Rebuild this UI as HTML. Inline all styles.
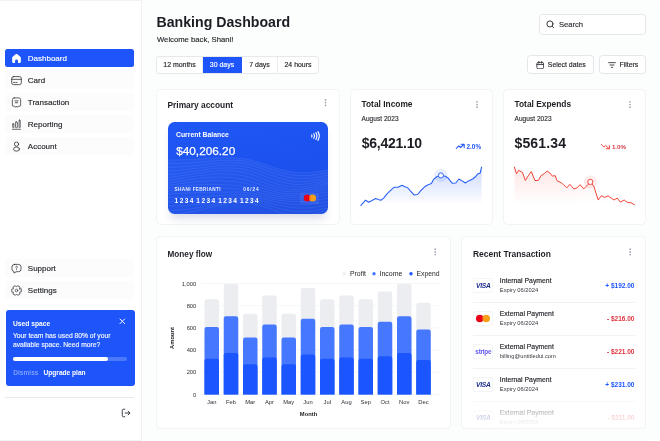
<!DOCTYPE html>
<html lang="en">
<head>
<meta charset="utf-8">
<title>Banking Dashboard</title>
<style>
*{box-sizing:border-box;margin:0;padding:0}
html,body{width:660px;height:441px;overflow:hidden}
body{font-family:"Liberation Sans",sans-serif;background:#fff;color:#1a1c21;position:relative}
.abs{position:absolute}
/* sidebar */
#side{position:absolute;left:0;top:0;width:142px;height:441px;background:#fff;border-right:1px solid #f0f1f4;border-top:1px solid #f1f2f4;border-bottom:1px solid #f1f2f4}
.nav{position:absolute;left:5.3px;width:129px;height:18px;background:#fcfcfc;border-radius:2px;font-size:8px;color:#23262b;line-height:20px;padding-left:22.5px;white-space:nowrap}
.nav.on{background:#1d55fb;color:#fff;border-radius:2.5px}
.nav svg{position:absolute;left:5.7px;top:3.7px;width:11px;height:11px;fill:none;stroke:#2a2d33;stroke-width:1.7;stroke-linecap:round;stroke-linejoin:round}
#used{position:absolute;left:5.5px;top:309px;width:129px;height:76px;background:#1d55fb;border-radius:3px;color:#fff}
#used .t{position:absolute;left:7.5px;top:9.4px;font-size:6.7px;font-weight:bold;line-height:9px}
#used .d{position:absolute;left:7.5px;top:20.6px;font-size:6.74px;line-height:9.1px;white-space:nowrap;color:#f3f6ff}
#used .bar{position:absolute;left:7.5px;top:46.6px;width:114px;height:4px;border-radius:2px;background:#4c79fc}
#used .bar i{display:block;width:95px;height:4px;border-radius:2px;background:#fff}
#used .a{position:absolute;top:57.7px;font-size:6.6px;line-height:9px;font-weight:bold;white-space:nowrap}
/* main */
h1{position:absolute;left:156.5px;top:12.5px;font-size:14.15px;line-height:19px;font-weight:bold;color:#1b1d22;white-space:nowrap}
.sub{position:absolute;left:157px;top:34.7px;font-size:7.7px;line-height:10px;color:#24272c;white-space:nowrap}
.tabs{position:absolute;left:156px;top:56px;width:163px;height:18px;border:1px solid #e6e8ec;border-radius:3px;background:#fff;overflow:hidden;display:flex;font-size:6.95px;line-height:16px;color:#22252a;text-align:center;white-space:nowrap}
.tabs div{border-right:1px solid #e9ebee;height:100%}
.tabs div:last-child{border-right:0}
.tabs .on{background:#1d55fb;color:#fff;border-right-color:#1d55fb}
.btn{position:absolute;height:19px;top:55px;border:1px solid #e4e6eb;border-radius:3.5px;background:#fff;font-size:6.9px;line-height:17.4px;color:#22252a;white-space:nowrap}
.btn svg{position:absolute;fill:none;stroke:#2a2d33;stroke-linecap:round;stroke-linejoin:round}
.card{position:absolute;background:#fff;border:1px solid #f2f3f6;border-radius:4.5px}
.ct{position:absolute;font-size:8.2px;line-height:11px;font-weight:bold;color:#1d1f24;white-space:nowrap}
.keb{position:absolute;width:1.4px}
.keb i{display:block;width:1.6px;height:1.6px;border-radius:1px;background:#a2a8b4;margin-bottom:1.05px}
.small{position:absolute;font-size:6.5px;letter-spacing:.05px;line-height:8px;color:#2b2e33;white-space:nowrap}
.big{position:absolute;font-size:14px;line-height:18px;font-weight:bold;color:#1b1d22;white-space:nowrap}
.pct{position:absolute;font-size:6.4px;line-height:8px;font-weight:bold;white-space:nowrap}
svg text{font-family:"Liberation Sans",sans-serif}
.sub,.nav,.tabs,.btn,.tt,.small,#used .d{-webkit-text-stroke:.15px currentColor}
#ov{position:absolute;left:0;top:0;width:660px;height:441px;pointer-events:none}
/* bank card */
#bank{position:absolute;left:167.6px;top:121.8px;width:160.9px;height:92.4px;border-radius:6.5px;background:linear-gradient(170deg,#1f57f6 0%,#1c51ee 55%,#1a4be2 100%);box-shadow:0 7px 9px -3px rgba(30,50,110,.17);color:#fff;overflow:hidden}
#bank div{position:absolute;white-space:nowrap}
#bank svg.w{position:absolute;left:0;top:0;width:160.7px;height:92px}
/* transactions */
.logo{position:absolute;left:473.2px;width:20.3px;height:14.3px;border:1px solid #f4f5f7;border-radius:2px;background:#fff;text-align:center;overflow:hidden}
.visa{position:absolute;left:0;right:0;top:3.3px;font-size:6.6px;line-height:6px;font-weight:bold;font-style:italic;color:#1b2a8f;letter-spacing:-.2px}
.stripe{position:absolute;left:0;right:0;top:2.3px;font-size:6.3px;line-height:7px;font-weight:bold;color:#5f57f5;letter-spacing:-.2px}
.tt{position:absolute;left:499.8px;font-size:6.85px;line-height:9px;color:#1d1f24;white-space:nowrap}
.ts{position:absolute;left:499.8px;font-size:5.75px;line-height:8px;color:#33363c;white-space:nowrap}
.ta{position:absolute;right:25.6px;font-size:6.5px;line-height:9px;font-weight:bold;white-space:nowrap}
.dv{position:absolute;left:473.2px;width:161.4px;height:1px;background:#f1f2f4}
#fade{position:absolute;left:463px;top:398px;width:182px;height:29.5px;background:linear-gradient(180deg,rgba(255,255,255,.35) 0%,rgba(255,255,255,.75) 55%,#fff 100%);border-radius:0 0 5px 5px}
</style>
</head>
<body>
<!-- SIDEBAR -->
<div id="side">
  <div class="nav on" style="top:48px"><svg viewBox="0 0 24 24" style="stroke:none;fill:#fff"><path d="M2.5 10.6c0-1 .4-1.9 1.200-2.500l6.400-5.300c1.100-.9 2.700-.9 3.800 0l6.400 5.300c.8.600 1.200 1.500 1.200 2.500V19a3 3 0 0 1-3 3h-2.300a1 1 0 0 1-1-1v-3.600a3.200 3.200 0 0 0-6.400 0V21a1 1 0 0 1-1 1H5.500a3 3 0 0 1-3-3z"/></svg>Dashboard</div>
  <div class="nav" style="top:70px"><svg viewBox="0 0 24 24"><rect x="1.5" y="3.500" width="21" height="17.500" rx="4"/><path d="M1.500 9.500h21M5.500 16.200h2.500M10.500 16.200h2.500"/></svg>Card</div>
  <div class="nav" style="top:92px"><svg viewBox="0 0 24 24"><path d="M7 2h10a4 4 0 0 1 4 4v12.500a1.500 1.500 0 0 1-1.500 1.500H16l-2 2.500-2-2.500-2 2.500-2-2.500H4.500A1.500 1.500 0 0 1 3 18.500V6a4 4 0 0 1 4-4z" stroke-width="1.600"/><path d="M8.500 8.500h7M9.500 12.500h5"/></svg>Transaction</div>
  <div class="nav" style="top:114px"><svg viewBox="0 0 24 24"><path d="M3 22.500h18" stroke-width="1.500"/><rect x="3.800" y="10.500" width="2.600" height="8.500" rx=".8" stroke-width="1.500"/><rect x="10" y="6.500" width="4" height="12.500" rx="1.200" stroke-width="1.500"/><rect x="17.600" y="2.500" width="2.600" height="16.500" rx=".8" stroke-width="1.500"/></svg>Reporting</div>
  <div class="nav" style="top:136px"><svg viewBox="0 0 24 24"><circle cx="12" cy="6.800" r="4.600"/><ellipse cx="12" cy="17.600" rx="6.500" ry="4.600"/></svg>Account</div>
  <div class="nav" style="top:258px"><svg viewBox="0 0 24 24"><path d="M8 3h8a6 6 0 0 1 6 6v4a6 6 0 0 1-6 6h-4.500L6.500 22v-3.200A6 6 0 0 1 2 13V9a6 6 0 0 1 6-6z"/><path d="M10.300 9a1.800 1.800 0 1 1 2.600 1.600c-.6.300-.9.700-.9 1.400" stroke-width="1.500"/><path d="M12 14.800v.1" stroke-width="1.800"/></svg>Support</div>
  <div class="nav" style="top:280px"><svg viewBox="0 0 24 24"><circle cx="12" cy="12" r="2.800" stroke-width="1.500"/><path d="M22.4 9.0L22.4 15.0L18.6 15.8L19.8 19.5L14.6 22.5L12.0 19.6L9.4 22.5L4.2 19.5L5.4 15.8L1.6 15.0L1.6 9.0L5.4 8.2L4.2 4.5L9.4 1.5L12.0 4.4L14.6 1.5L19.8 4.5L18.6 8.2z" stroke-width="1.600"/></svg>Settings</div>
  <div id="used">
    <div class="t">Used space</div>
    <div class="d">Your team has used 80% of your<br>available space. Need more?</div>
    <div class="bar"><i></i></div>
    <div class="a" style="left:7.7px;color:#7f9fff">Dismiss</div>
    <div class="a" style="left:38px">Upgrade plan</div>
    <svg class="abs" style="left:113.500px;top:8.400px" width="6.600" height="6.600" viewBox="0 0 7 7"><path d="M1 1l5 5M6 1l-5 5" stroke="#fff" stroke-width="1" stroke-linecap="round" fill="none"/></svg>
  </div>
  <div class="abs" style="left:5.3px;top:395.7px;width:129px;height:1px;background:#e7e9ed"></div>
  <svg class="abs" style="left:121px;top:407px" width="10" height="10" viewBox="0 0 24 24" fill="none" stroke="#2a2d33" stroke-width="2.200" stroke-linecap="round" stroke-linejoin="round"><path d="M9 3H6a3 3 0 0 0-3 3v12a3 3 0 0 0 3 3h3"/><path d="M10 12h11M17 7.500l4.500 4.500-4.500 4.500"/></svg>
</div>

<div class="abs" style="left:142px;top:0;width:518px;height:441px;background:#fcfdfd;border-radius:0 9px 9px 0"></div>
<!-- HEADER -->
<h1>Banking Dashboard</h1>
<div class="sub">Welcome back, Shani!</div>
<div class="tabs">
  <div style="width:46px">12 months</div><div class="on" style="width:39px">30 days</div><div style="width:36px">7 days</div><div style="flex:1">24 hours</div>
</div>
<div class="btn" style="left:538.8px;top:13.8px;width:107.3px;height:20.8px;font-size:7.6px;line-height:19.8px;padding-left:19.2px;color:#2b2e33"><svg style="left:6.3px;top:5.6px" width="8.600" height="8.600" viewBox="0 0 24 24" stroke-width="2.600"><circle cx="11" cy="11" r="8.500"/><path d="M17.500 17.500l4 4"/></svg>Search</div>
<div class="btn" style="left:527px;width:67px;padding-left:19.800px"><svg style="left:7.7px;top:4.5px" width="8.500" height="8.500" viewBox="0 0 24 24" stroke-width="2.400"><rect x="2.500" y="4" width="19" height="18" rx="4"/><path d="M2.500 10h19M8 1.500v5M16 1.500v5"/></svg>Select dates</div>
<div class="btn" style="left:599px;width:47px;padding-left:19.500px"><svg style="left:7.700px;top:4.900px" width="8" height="8" viewBox="0 0 24 24" stroke-width="2.600"><path d="M2 5h20M6 12h12M10 19h4"/></svg>Filters</div>

<!-- CARDS -->
<div class="card" style="left:156.3px;top:88.8px;width:183.4px;height:136.2px"></div>
<div class="ct" style="left:167.5px;top:99.7px;font-size:8.4px">Primary account</div>
<div id="bank">
  <svg class="w" viewBox="0 0 160.7 92" fill="none" stroke="#a9c2ff" stroke-opacity=".3" stroke-width=".4">
<path d="M0.0 37.9 L5.0 37.9 L10.1 37.8 L15.1 37.7 L20.1 37.5 L25.2 37.3 L30.2 37.1 L35.2 36.8 L40.2 36.5 L45.3 36.1 L50.3 35.9 L55.3 35.8 L60.4 35.8 L65.4 35.8 L70.4 36.0 L75.5 36.5 L80.5 37.5 L85.5 38.8 L90.6 40.3 L95.6 41.9 L100.6 43.7 L105.7 45.4 L110.7 47.0 L115.7 48.3 L120.8 49.4 L125.8 50.2 L130.8 50.6 L135.8 50.7 L140.9 50.4 L145.9 50.0 L150.9 49.3 L156.0 48.6 L161.0 47.9 L161 92 L0 92 Z" fill="#fff" fill-opacity=".035" stroke="none"/>
<polyline points="0.0 37.9 5.0 37.9 10.1 37.8 15.1 37.7 20.1 37.5 25.2 37.3 30.2 37.1 35.2 36.8 40.2 36.5 45.3 36.1 50.3 35.9 55.3 35.8 60.4 35.8 65.4 35.8 70.4 36.0 75.5 36.5 80.5 37.5 85.5 38.8 90.6 40.3 95.6 41.9 100.6 43.7 105.7 45.4 110.7 47.0 115.7 48.3 120.8 49.4 125.8 50.2 130.8 50.6 135.8 50.7 140.9 50.4 145.9 50.0 150.9 49.3 156.0 48.6 161.0 47.9"/>
<polyline points="0.0 41.6 5.0 41.6 10.1 41.4 15.1 41.2 20.1 41.0 25.2 40.7 30.2 40.3 35.2 39.9 40.2 39.4 45.3 39.0 50.3 38.6 55.3 38.4 60.4 38.3 65.4 38.3 70.4 38.4 75.5 38.9 80.5 40.0 85.5 41.3 90.6 42.9 95.6 44.5 100.6 46.3 105.7 48.1 110.7 49.8 115.7 51.2 120.8 52.3 125.8 53.1 130.8 53.6 135.8 53.6 140.9 53.4 145.9 52.9 150.9 52.1 156.0 51.3 161.0 50.5"/>
<polyline points="0.0 45.3 5.0 45.2 10.1 45.0 15.1 44.6 20.1 44.3 25.2 43.8 30.2 43.3 35.2 42.8 40.2 42.2 45.3 41.6 50.3 41.2 55.3 40.9 60.4 40.8 65.4 40.8 70.4 40.9 75.5 41.5 80.5 42.5 85.5 44.0 90.6 45.6 95.6 47.4 100.6 49.2 105.7 51.1 110.7 52.8 115.7 54.3 120.8 55.4 125.8 56.2 130.8 56.6 135.8 56.6 140.9 56.3 145.9 55.7 150.9 54.9 156.0 53.9 161.0 52.9"/>
<polyline points="0.0 49.0 5.0 48.7 10.1 48.3 15.1 47.8 20.1 47.3 25.2 46.7 30.2 46.1 35.2 45.4 40.2 44.8 45.3 44.2 50.3 43.7 55.3 43.4 60.4 43.3 65.4 43.3 70.4 43.5 75.5 44.2 80.5 45.3 85.5 46.8 90.6 48.6 95.6 50.4 100.6 52.3 105.7 54.2 110.7 56.0 115.7 57.4 120.8 58.5 125.8 59.3 130.8 59.7 135.8 59.5 140.9 59.1 145.9 58.3 150.9 57.3 156.0 56.2 161.0 55.1"/>
<polyline points="0.0 52.4 5.0 51.9 10.1 51.4 15.1 50.8 20.1 50.1 25.2 49.4 30.2 48.7 35.2 48.0 40.2 47.3 45.3 46.7 50.3 46.2 55.3 46.0 60.4 46.0 65.4 46.0 70.4 46.4 75.5 47.1 80.5 48.4 85.5 50.0 90.6 51.8 95.6 53.7 100.6 55.6 105.7 57.5 110.7 59.3 115.7 60.6 120.8 61.6 125.8 62.3 130.8 62.5 135.8 62.2 140.9 61.6 145.9 60.7 150.9 59.6 156.0 58.3 161.0 57.1"/>
<polyline points="0.0 55.5 5.0 54.9 10.1 54.2 15.1 53.5 20.1 52.7 25.2 51.9 30.2 51.2 35.2 50.5 40.2 49.8 45.3 49.3 50.3 48.9 55.3 48.8 60.4 48.8 65.4 49.0 70.4 49.5 75.5 50.3 80.5 51.7 85.5 53.3 90.6 55.2 95.6 57.1 100.6 59.0 105.7 60.8 110.7 62.5 115.7 63.7 120.8 64.6 125.8 65.1 130.8 65.1 135.8 64.7 140.9 63.9 145.9 62.8 150.9 61.6 156.0 60.2 161.0 58.9"/>
<polyline points="0.0 58.3 5.0 57.6 10.1 56.8 15.1 56.0 20.1 55.2 25.2 54.4 30.2 53.7 35.2 53.1 40.2 52.5 45.3 52.1 50.3 51.8 55.3 51.9 60.4 52.0 65.4 52.4 70.4 52.9 75.5 53.8 80.5 55.1 85.5 56.8 90.6 58.6 95.6 60.5 100.6 62.3 105.7 64.0 110.7 65.5 115.7 66.5 120.8 67.2 125.8 67.5 130.8 67.4 135.8 66.8 140.9 65.9 145.9 64.7 150.9 63.4 156.0 61.9 161.0 60.6"/>
<polyline points="0.0 61.0 5.0 60.2 10.1 59.4 15.1 58.5 20.1 57.8 25.2 57.1 30.2 56.5 35.2 56.0 40.2 55.5 45.3 55.2 50.3 55.1 55.3 55.2 60.4 55.5 65.4 55.9 70.4 56.5 75.5 57.4 80.5 58.7 85.5 60.3 90.6 62.0 95.6 63.7 100.6 65.4 105.7 66.9 110.7 68.2 115.7 69.1 120.8 69.6 125.8 69.7 130.8 69.4 135.8 68.7 140.9 67.7 145.9 66.5 150.9 65.1 156.0 63.7 161.0 62.5"/>
<polyline points="0.0 63.5 5.0 62.7 10.1 61.9 15.1 61.2 20.1 60.6 25.2 60.0 30.2 59.5 35.2 59.2 40.2 58.9 45.3 58.7 50.3 58.7 55.3 58.9 60.4 59.2 65.4 59.6 70.4 60.1 75.5 61.0 80.5 62.2 85.5 63.6 90.6 65.2 95.6 66.7 100.6 68.1 105.7 69.5 110.7 70.5 115.7 71.3 120.8 71.6 125.8 71.6 130.8 71.2 135.8 70.5 140.9 69.5 145.9 68.3 150.9 67.0 156.0 65.7 161.0 64.5"/>
<polyline points="0.0 66.1 5.0 65.4 10.1 64.8 15.1 64.2 20.1 63.7 25.2 63.3 30.2 63.0 35.2 62.7 40.2 62.5 45.3 62.4 50.3 62.5 55.3 62.7 60.4 63.0 65.4 63.3 70.4 63.7 75.5 64.4 80.5 65.4 85.5 66.7 90.6 68.0 95.6 69.3 100.6 70.5 105.7 71.7 110.7 72.6 115.7 73.2 120.8 73.4 125.8 73.4 130.8 73.0 135.8 72.3 140.9 71.3 145.9 70.2 150.9 69.1 156.0 67.9 161.0 67.0"/>
<polyline points="0.0 68.9 5.0 68.4 10.1 67.9 15.1 67.5 20.1 67.2 25.2 66.9 30.2 66.7 35.2 66.6 40.2 66.4 45.3 66.4 50.3 66.4 55.3 66.5 60.4 66.7 65.4 66.8 70.4 67.0 75.5 67.5 80.5 68.3 85.5 69.3 90.6 70.5 95.6 71.5 100.6 72.6 105.7 73.6 110.7 74.4 115.7 75.0 120.8 75.2 125.8 75.2 130.8 74.9 135.8 74.3 140.9 73.5 145.9 72.5 150.9 71.5 156.0 70.5 161.0 69.8"/>
<polyline points="0.0 72.1 5.0 71.8 10.1 71.5 15.1 71.2 20.1 71.0 25.2 70.8 30.2 70.7 35.2 70.6 40.2 70.4 45.3 70.2 50.3 70.1 55.3 70.1 60.4 70.1 65.4 70.0 70.4 70.0 75.5 70.2 80.5 70.8 85.5 71.6 90.6 72.5 95.6 73.5 100.6 74.5 105.7 75.4 110.7 76.2 115.7 76.8 120.8 77.1 125.8 77.2 130.8 77.1 135.8 76.6 140.9 76.0 145.9 75.2 150.9 74.4 156.0 73.6 161.0 72.9"/>
<polyline points="0.0 75.8 5.0 75.6 10.1 75.4 15.1 75.3 20.1 75.1 25.2 75.0 30.2 74.8 35.2 74.6 40.2 74.3 45.3 73.9 50.3 73.6 55.3 73.3 60.4 73.1 65.4 72.8 70.4 72.5 75.5 72.5 80.5 72.9 85.5 73.6 90.6 74.4 95.6 75.3 100.6 76.3 105.7 77.3 110.7 78.2 115.7 78.8 120.8 79.3 125.8 79.6 130.8 79.7 135.8 79.4 140.9 79.0 145.9 78.3 150.9 77.6 156.0 76.9 161.0 76.2"/>
<polyline points="0.0 79.8 5.0 79.7 10.1 79.6 15.1 79.5 20.1 79.3 25.2 79.1 30.2 78.8 35.2 78.3 40.2 77.8 45.3 77.3 50.3 76.7 55.3 76.2 60.4 75.6 65.4 75.1 70.4 74.6 75.5 74.5 80.5 74.8 85.5 75.4 90.6 76.2 95.6 77.1 100.6 78.2 105.7 79.3 110.7 80.4 115.7 81.3 120.8 82.0 125.8 82.5 130.8 82.7 135.8 82.6 140.9 82.3 145.9 81.8 150.9 81.1 156.0 80.3 161.0 79.6"/>
<polyline points="0.0 84.1 5.0 84.1 10.1 83.9 15.1 83.7 20.1 83.4 25.2 82.9 30.2 82.4 35.2 81.7 40.2 81.0 45.3 80.1 50.3 79.3 55.3 78.5 60.4 77.8 65.4 77.1 70.4 76.5 75.5 76.3 80.5 76.6 85.5 77.3 90.6 78.2 95.6 79.2 100.6 80.5 105.7 81.8 110.7 83.1 115.7 84.2 120.8 85.1 125.8 85.7 130.8 86.1 135.8 86.1 140.9 85.8 145.9 85.3 150.9 84.6 156.0 83.7 161.0 82.8"/>
<polyline points="0.0 88.5 5.0 88.4 10.1 88.1 15.1 87.6 20.1 87.1 25.2 86.4 30.2 85.6 35.2 84.6 40.2 83.6 45.3 82.5 50.3 81.5 55.3 80.5 60.4 79.7 65.4 78.9 70.4 78.3 75.5 78.2 80.5 78.6 85.5 79.4 90.6 80.5 95.6 81.8 100.6 83.2 105.7 84.8 110.7 86.3 115.7 87.5 120.8 88.6 125.8 89.3 130.8 89.8 135.8 89.8 140.9 89.4 145.9 88.8 150.9 87.9 156.0 86.7 161.0 85.6"/>
<polyline points="0.0 92.8 5.0 92.4 10.1 91.9 15.1 91.2 20.1 90.3 25.2 89.4 30.2 88.3 35.2 87.1 40.2 85.8 45.3 84.5 50.3 83.4 55.3 82.4 60.4 81.5 65.4 80.8 70.4 80.3 75.5 80.3 80.5 80.9 85.5 82.0 90.6 83.3 95.6 84.8 100.6 86.5 105.7 88.2 110.7 89.9 115.7 91.3 120.8 92.3 125.8 93.1 130.8 93.5 135.8 93.3 140.9 92.8 145.9 91.9 150.9 90.7 156.0 89.4 161.0 87.9"/>
</svg>
  <div style="left:8.400px;top:8px;font-size:6.850px;line-height:9px;font-weight:bold">Current Balance</div>
  <div style="left:8.600px;top:22.200px;font-size:11.800px;line-height:14px;-webkit-text-stroke:.25px #fff">$40,206.20</div>
  <div style="left:7px;top:65px;font-size:4.700px;line-height:6px;font-weight:bold;letter-spacing:.36px;color:#e6edff">SHANI FEBRIANTI</div>
  <div style="left:75.600px;top:65px;font-size:4.700px;line-height:6px;font-weight:bold;letter-spacing:.9px;color:#e6edff">06/24</div>
  <div style="left:7px;top:74.800px;font-size:6.500px;line-height:8px;font-weight:bold;letter-spacing:1.420px;word-spacing:-1.600px">1234 1234 1234 1234</div>
  <div style="left:132.800px;top:70.900px;width:19.100px;height:10.900px;background:rgba(255,255,255,.07);border-radius:1px"></div>
  <svg style="position:absolute;left:135.500px;top:72.400px" width="14" height="8" viewBox="0 0 14 8"><circle cx="4.200" cy="4" r="3.500" fill="#eb001b"/><circle cx="9.600" cy="4" r="3.500" fill="#f79e1b"/><path d="M6.900 1.800a3.500 3.500 0 0 1 0 4.400a3.500 3.500 0 0 1 0-4.400z" fill="#ff5f00"/></svg>
  <svg style="position:absolute;left:142.200px;top:9.400px" width="10" height="10" viewBox="0 0 24 24" fill="none" stroke="#fff" stroke-width="2.700" stroke-linecap="round"><path d="M4 9.500c1 1.600 1 3.400 0 5M9 6.500c2.200 3.500 2.200 7.500 0 11M14 4c3.200 5 3.200 11 0 16M19 1.500c4 6.500 4 14.500 0 21"/></svg>
</div>

<div class="card" style="left:350.4px;top:88.8px;width:142.3px;height:136.2px"></div>
<div class="ct" style="left:361.5px;top:99.4px;font-size:8.4px">Total Income</div>
<div class="small" style="left:361.5px;top:115.2px">August 2023</div>
<div class="big" style="left:361.7px;top:134px;letter-spacing:-.25px">$6,421.10</div>
<div class="pct" style="left:466.5px;top:142.800px;color:#1d55fb">2.0%</div>

<div class="card" style="left:503.2px;top:88.8px;width:142.9px;height:136.2px"></div>
<div class="ct" style="left:514.5px;top:99.4px;font-size:8.4px">Total Expends</div>
<div class="small" style="left:514.5px;top:115.2px">August 2023</div>
<div class="big" style="left:514.5px;top:134px;letter-spacing:.15px">$561.34</div>
<div class="pct" style="left:611.9px;top:142.900px;color:#d93a44;font-size:6.2px">1.0%</div>

<div class="card" style="left:156.3px;top:235.8px;width:294.4px;height:193.7px"></div>
<div class="ct" style="left:167.5px;top:248.6px">Money flow</div>

<div class="card" style="left:461.2px;top:235.8px;width:184.9px;height:193.7px"></div>
<div class="ct" style="left:473px;top:248.6px;font-size:8.45px">Recent Transaction</div>
<div class="logo" style="top:278.3px"><span class="visa">VISA</span></div>
<div class="tt" style="top:276.0px">Internal Payment</div>
<div class="ts" style="top:286.1px">Expiry 06/2024</div>
<div class="ta" style="top:281.0px;color:#1d55fb">+ $192.00</div>
<div class="dv" style="top:302.0px"></div>
<div class="logo" style="top:311.3px"><svg width="15.98" height="9.13" viewBox="-1 0 14 8" style="position:absolute;left:1.2px;top:1.6px"><circle cx="3.15" cy="4" r="3.3" fill="#eb001b"/><circle cx="8.85" cy="4" r="3.3" fill="#f79e1b"/><path d="M6 2.336a3.3 3.3 0 0 1 0 3.328a3.3 3.3 0 0 1 0-3.328z" fill="#ff5f00"/></svg></div>
<div class="tt" style="top:309.0px">External Payment</div>
<div class="ts" style="top:319.1px">Expiry 06/2024</div>
<div class="ta" style="top:314.0px;color:#e0343e">- $216.00</div>
<div class="dv" style="top:335.0px"></div>
<div class="logo" style="top:344.3px"><span class="stripe">stripe</span></div>
<div class="tt" style="top:342.0px">External Payment</div>
<div class="ts" style="top:352.1px">billing@untitledui.com</div>
<div class="ta" style="top:347.0px;color:#e0343e">- $221.00</div>
<div class="dv" style="top:368.0px"></div>
<div class="logo" style="top:377.3px"><span class="visa">VISA</span></div>
<div class="tt" style="top:375.0px">Internal Payment</div>
<div class="ts" style="top:385.1px">Expiry 06/2024</div>
<div class="ta" style="top:380.0px;color:#1d55fb">+ $231.00</div>
<div class="dv" style="top:401.0px"></div>
<div class="logo" style="top:410.3px"><span class="visa">VISA</span></div>
<div class="tt" style="top:408.0px">External Payment</div>
<div class="ts" style="top:418.1px">Expiry 06/2024</div>
<div class="ta" style="top:413.0px;color:#e0343e">- $211.00</div>
<div id="fade"></div>

<svg id="ov" viewBox="0 0 660 441">
  <defs>
    <linearGradient id="gi" x1="0" y1="0" x2="0" y2="1"><stop offset="0" stop-color="#1d55fb" stop-opacity=".22"/><stop offset="1" stop-color="#1d55fb" stop-opacity="0"/></linearGradient>
    <linearGradient id="ge" x1="0" y1="0" x2="0" y2="1"><stop offset="0" stop-color="#f04438" stop-opacity=".13"/><stop offset="1" stop-color="#f04438" stop-opacity="0"/></linearGradient>
    <linearGradient id="gx" x1="0" y1="0" x2="1" y2="0"><stop offset="0" stop-color="#fff" stop-opacity="0"/><stop offset="1" stop-color="#fff" stop-opacity=".9"/></linearGradient>
  </defs>
  <!-- income -->
  <path d="M360.9 205.3 L365.6 200.2 L368.8 202.3 L372.0 200.6 L375.6 198.5 L378.3 199.5 L380.9 200.2 L383.6 198.1 L386.8 194.2 L390.6 190.4 L394.2 187.2 L398.1 187.2 L402.1 185.3 L404.9 186.8 L407.4 187.5 L410.6 191.1 L414.0 194.9 L417.6 194.5 L420.8 190.6 L424.6 186.8 L428.2 184.7 L431.4 183.6 L433.5 179.4 L436.7 176.8 L440.9 175.4 L445.2 176.2 L448.3 178.3 L452.2 183.2 L455.8 183.0 L458.9 179.0 L462.1 180.9 L465.3 183.0 L468.5 180.9 L472.7 179.0 L474.9 177.3 L477.6 174.1 L480.2 173.0 L481.6 167.1 L481.6 203 L360.9 203 Z" fill="url(#gi)" transform="translate(0,0)"/>
  <circle cx="440.900" cy="175.400" r="6" fill="#1d55fb" fill-opacity=".07" stroke="#1d55fb" stroke-opacity=".25" stroke-width=".5"/>
  <path d="M360.9 205.3 L365.6 200.2 L368.8 202.3 L372.0 200.6 L375.6 198.5 L378.3 199.5 L380.9 200.2 L383.6 198.1 L386.8 194.2 L390.6 190.4 L394.2 187.2 L398.1 187.2 L402.1 185.3 L404.9 186.8 L407.4 187.5 L410.6 191.1 L414.0 194.9 L417.6 194.5 L420.8 190.6 L424.6 186.8 L428.2 184.7 L431.4 183.6 L433.5 179.4 L436.7 176.8 L440.9 175.4 L445.2 176.2 L448.3 178.3 L452.2 183.2 L455.8 183.0 L458.9 179.0 L462.1 180.9 L465.3 183.0 L468.5 180.9 L472.7 179.0 L474.9 177.3 L477.6 174.1 L480.2 173.0 L481.6 167.1" fill="none" stroke="#2b62f5" stroke-width="1.100" stroke-linejoin="round" stroke-linecap="round"/>
  <circle cx="440.900" cy="175.400" r="2.600" fill="#fff" stroke="#2b62f5" stroke-width="1"/>
  <path d="M456.200 148.500l2.600-2.600 1.700 1.600 3.300-3.200M461 144.200h3.200v3.200" fill="none" stroke="#1d55fb" stroke-width="1.050" stroke-linecap="round" stroke-linejoin="round"/>
  <!-- expends -->
  <path d="M514.4 167.1 L516.5 173.7 L518.6 170.3 L522.4 172.4 L525.4 180.5 L528.6 175.2 L531.3 171.5 L534.9 180.5 L538.3 180.5 L540.9 175.8 L544.1 173.7 L547.2 171.1 L549.8 173.0 L552.5 176.2 L555.1 175.6 L557.2 180.9 L561.0 182.6 L563.6 184.7 L566.8 187.9 L569.9 184.3 L573.8 188.9 L576.9 187.9 L580.1 184.7 L583.7 188.9 L586.9 185.8 L590.3 181.9 L593.9 186.4 L596.0 193.2 L598.2 200.0 L601.3 195.7 L604.5 197.4 L608.1 195.9 L611.3 198.1 L614.1 200.0 L617.2 198.1 L620.4 202.1 L624.2 200.0 L627.9 202.7 L631.0 202.7 L634.6 204.9 L634.6 203 L514.4 203 Z" fill="url(#ge)"/>
  <rect x="560" y="165" width="76" height="40" fill="url(#gx)"/>
  <circle cx="590.300" cy="181.900" r="6" fill="#f04438" fill-opacity=".08" stroke="#f04438" stroke-opacity=".2" stroke-width=".5"/>
  <path d="M514.4 167.1 L516.5 173.7 L518.6 170.3 L522.4 172.4 L525.4 180.5 L528.6 175.2 L531.3 171.5 L534.9 180.5 L538.3 180.5 L540.9 175.8 L544.1 173.7 L547.2 171.1 L549.8 173.0 L552.5 176.2 L555.1 175.6 L557.2 180.9 L561.0 182.6 L563.6 184.7 L566.8 187.9 L569.9 184.3 L573.8 188.9 L576.9 187.9 L580.1 184.7 L583.7 188.9 L586.9 185.8 L590.3 181.9 L593.9 186.4 L596.0 193.2 L598.2 200.0 L601.3 195.7 L604.5 197.4 L608.1 195.9 L611.3 198.1 L614.1 200.0 L617.2 198.1 L620.4 202.1 L624.2 200.0 L627.9 202.7 L631.0 202.7 L634.6 204.9" fill="none" stroke="#f04438" stroke-width="1" stroke-linejoin="round" stroke-linecap="round"/>
  <circle cx="590.300" cy="181.900" r="2.600" fill="#fff" stroke="#f04438" stroke-width="1"/>
  <path d="M601.400 144.500l2.600 2.600 1.700-1.600 3.300 3.200M606.200 148.800h3.200v-3.200" fill="none" stroke="#f0443a" stroke-width="1" stroke-linecap="round" stroke-linejoin="round"/>
  <!-- kebabs -->
  <g fill="#9aa1ae"><circle cx="325.5" cy="99.90" r=".85"/><circle cx="325.5" cy="102.60" r=".85"/><circle cx="325.5" cy="105.30" r=".85"/><circle cx="477" cy="101.80" r=".85"/><circle cx="477" cy="104.50" r=".85"/><circle cx="477" cy="107.20" r=".85"/><circle cx="630" cy="101.80" r=".85"/><circle cx="630" cy="104.50" r=".85"/><circle cx="630" cy="107.20" r=".85"/><circle cx="435.2" cy="249.20" r=".85"/><circle cx="435.2" cy="251.90" r=".85"/><circle cx="435.2" cy="254.60" r=".85"/><circle cx="630.2" cy="249.20" r=".85"/><circle cx="630.2" cy="251.90" r=".85"/><circle cx="630.2" cy="254.60" r=".85"/></g>
  <!-- money flow -->
  <g stroke="#f3f4f6" stroke-width="0.8">
<line x1="201" x2="439.5" y1="283.5" y2="283.5"/>
<line x1="201" x2="439.5" y1="305.7" y2="305.7"/>
<line x1="201" x2="439.5" y1="327.9" y2="327.9"/>
<line x1="201" x2="439.5" y1="350.1" y2="350.1"/>
<line x1="201" x2="439.5" y1="372.3" y2="372.3"/>
<line x1="201" x2="439.5" y1="394.5" y2="394.5"/>
</g>
<path d="M204.5 394.5V301.45a2.2 2.2 0 0 1 2.2-2.2h10.1a2.2 2.2 0 0 1 2.2 2.2V394.5z" fill="#ecedf1"/>
<path d="M204.5 394.5V329.2a2.2 2.2 0 0 1 2.2-2.2h10.1a2.2 2.2 0 0 1 2.2 2.2V394.5z" fill="#4678ff"/>
<path d="M204.5 394.5V360.95a2.2 2.2 0 0 1 2.2-2.2h10.1a2.2 2.2 0 0 1 2.2 2.2V394.5z" fill="#1a55fd"/>
<path d="M223.75 394.5V286.2a2.2 2.2 0 0 1 2.2-2.2h10.1a2.2 2.2 0 0 1 2.2 2.2V394.5z" fill="#ecedf1"/>
<path d="M223.75 394.5V318.45a2.2 2.2 0 0 1 2.2-2.2h10.1a2.2 2.2 0 0 1 2.2 2.2V394.5z" fill="#4678ff"/>
<path d="M223.75 394.5V355.2a2.2 2.2 0 0 1 2.2-2.2h10.1a2.2 2.2 0 0 1 2.2 2.2V394.5z" fill="#1a55fd"/>
<path d="M243.0 394.5V315.95a2.2 2.2 0 0 1 2.2-2.2h10.1a2.2 2.2 0 0 1 2.2 2.2V394.5z" fill="#ecedf1"/>
<path d="M243.0 394.5V339.7a2.2 2.2 0 0 1 2.2-2.2h10.1a2.2 2.2 0 0 1 2.2 2.2V394.5z" fill="#4678ff"/>
<path d="M243.0 394.5V366.45a2.2 2.2 0 0 1 2.2-2.2h10.1a2.2 2.2 0 0 1 2.2 2.2V394.5z" fill="#1a55fd"/>
<path d="M262.25 394.5V297.7a2.2 2.2 0 0 1 2.2-2.2h10.1a2.2 2.2 0 0 1 2.2 2.2V394.5z" fill="#ecedf1"/>
<path d="M262.25 394.5V326.7a2.2 2.2 0 0 1 2.2-2.2h10.1a2.2 2.2 0 0 1 2.2 2.2V394.5z" fill="#4678ff"/>
<path d="M262.25 394.5V359.7a2.2 2.2 0 0 1 2.2-2.2h10.1a2.2 2.2 0 0 1 2.2 2.2V394.5z" fill="#1a55fd"/>
<path d="M281.5 394.5V315.95a2.2 2.2 0 0 1 2.2-2.2h10.1a2.2 2.2 0 0 1 2.2 2.2V394.5z" fill="#ecedf1"/>
<path d="M281.5 394.5V339.7a2.2 2.2 0 0 1 2.2-2.2h10.1a2.2 2.2 0 0 1 2.2 2.2V394.5z" fill="#4678ff"/>
<path d="M281.5 394.5V366.45a2.2 2.2 0 0 1 2.2-2.2h10.1a2.2 2.2 0 0 1 2.2 2.2V394.5z" fill="#1a55fd"/>
<path d="M300.75 394.5V290.2a2.2 2.2 0 0 1 2.2-2.2h10.1a2.2 2.2 0 0 1 2.2 2.2V394.5z" fill="#ecedf1"/>
<path d="M300.75 394.5V320.95a2.2 2.2 0 0 1 2.2-2.2h10.1a2.2 2.2 0 0 1 2.2 2.2V394.5z" fill="#4678ff"/>
<path d="M300.75 394.5V356.7a2.2 2.2 0 0 1 2.2-2.2h10.1a2.2 2.2 0 0 1 2.2 2.2V394.5z" fill="#1a55fd"/>
<path d="M320.0 394.5V301.45a2.2 2.2 0 0 1 2.2-2.2h10.1a2.2 2.2 0 0 1 2.2 2.2V394.5z" fill="#ecedf1"/>
<path d="M320.0 394.5V329.2a2.2 2.2 0 0 1 2.2-2.2h10.1a2.2 2.2 0 0 1 2.2 2.2V394.5z" fill="#4678ff"/>
<path d="M320.0 394.5V360.95a2.2 2.2 0 0 1 2.2-2.2h10.1a2.2 2.2 0 0 1 2.2 2.2V394.5z" fill="#1a55fd"/>
<path d="M339.25 394.5V297.7a2.2 2.2 0 0 1 2.2-2.2h10.1a2.2 2.2 0 0 1 2.2 2.2V394.5z" fill="#ecedf1"/>
<path d="M339.25 394.5V326.7a2.2 2.2 0 0 1 2.2-2.2h10.1a2.2 2.2 0 0 1 2.2 2.2V394.5z" fill="#4678ff"/>
<path d="M339.25 394.5V359.7a2.2 2.2 0 0 1 2.2-2.2h10.1a2.2 2.2 0 0 1 2.2 2.2V394.5z" fill="#1a55fd"/>
<path d="M358.5 394.5V301.45a2.2 2.2 0 0 1 2.2-2.2h10.1a2.2 2.2 0 0 1 2.2 2.2V394.5z" fill="#ecedf1"/>
<path d="M358.5 394.5V329.2a2.2 2.2 0 0 1 2.2-2.2h10.1a2.2 2.2 0 0 1 2.2 2.2V394.5z" fill="#4678ff"/>
<path d="M358.5 394.5V360.95a2.2 2.2 0 0 1 2.2-2.2h10.1a2.2 2.2 0 0 1 2.2 2.2V394.5z" fill="#1a55fd"/>
<path d="M377.75 394.5V293.7a2.2 2.2 0 0 1 2.2-2.2h10.1a2.2 2.2 0 0 1 2.2 2.2V394.5z" fill="#ecedf1"/>
<path d="M377.75 394.5V323.95a2.2 2.2 0 0 1 2.2-2.2h10.1a2.2 2.2 0 0 1 2.2 2.2V394.5z" fill="#4678ff"/>
<path d="M377.75 394.5V358.45a2.2 2.2 0 0 1 2.2-2.2h10.1a2.2 2.2 0 0 1 2.2 2.2V394.5z" fill="#1a55fd"/>
<path d="M397.0 394.5V286.2a2.2 2.2 0 0 1 2.2-2.2h10.1a2.2 2.2 0 0 1 2.2 2.2V394.5z" fill="#ecedf1"/>
<path d="M397.0 394.5V318.45a2.2 2.2 0 0 1 2.2-2.2h10.1a2.2 2.2 0 0 1 2.2 2.2V394.5z" fill="#4678ff"/>
<path d="M397.0 394.5V355.2a2.2 2.2 0 0 1 2.2-2.2h10.1a2.2 2.2 0 0 1 2.2 2.2V394.5z" fill="#1a55fd"/>
<path d="M416.25 394.5V304.95a2.2 2.2 0 0 1 2.2-2.2h10.1a2.2 2.2 0 0 1 2.2 2.2V394.5z" fill="#ecedf1"/>
<path d="M416.25 394.5V331.7a2.2 2.2 0 0 1 2.2-2.2h10.1a2.2 2.2 0 0 1 2.2 2.2V394.5z" fill="#4678ff"/>
<path d="M416.25 394.5V362.2a2.2 2.2 0 0 1 2.2-2.2h10.1a2.2 2.2 0 0 1 2.2 2.2V394.5z" fill="#1a55fd"/>
<g font-size="5.8" fill="#2d3036" text-anchor="end">
<text x="196.3" y="285.6">1,000</text>
<text x="196.3" y="307.8">800</text>
<text x="196.3" y="330.0">600</text>
<text x="196.3" y="352.20000000000005">400</text>
<text x="196.3" y="374.40000000000003">200</text>
<text x="196.3" y="396.6">0</text>
</g>
<g font-size="5.8" fill="#2d3036" text-anchor="middle">
<text x="211.75" y="404.2">Jan</text>
<text x="231.0" y="404.2">Feb</text>
<text x="250.25" y="404.2">Mar</text>
<text x="269.5" y="404.2">Apr</text>
<text x="288.75" y="404.2">May</text>
<text x="308.0" y="404.2">Jun</text>
<text x="327.25" y="404.2">Jul</text>
<text x="346.5" y="404.2">Aug</text>
<text x="365.75" y="404.2">Sep</text>
<text x="385.0" y="404.2">Oct</text>
<text x="404.25" y="404.2">Nov</text>
<text x="423.5" y="404.2">Dec</text>
</g>
<text x="308.5" y="416.2" font-size="5.8" font-weight="bold" fill="#1d1f24" text-anchor="middle">Month</text>
<text transform="translate(174.2 338) rotate(-90)" font-size="5.8" font-weight="bold" fill="#1d1f24" text-anchor="middle">Amount</text>
<g font-size="7" fill="#24272c">
<circle cx="344.2" cy="273.8" r="1.7" fill="#ecedf1"/><text x="350" y="276.3" textLength="16" lengthAdjust="spacingAndGlyphs">Profit</text>
<circle cx="374" cy="273.8" r="1.7" fill="#4678ff"/><text x="379.5" y="276.3" textLength="23" lengthAdjust="spacingAndGlyphs">Income</text>
<circle cx="411" cy="273.8" r="1.7" fill="#1a55fd"/><text x="416.5" y="276.3" textLength="23" lengthAdjust="spacingAndGlyphs">Expend</text>
</g>
</svg>
</body>
</html>
